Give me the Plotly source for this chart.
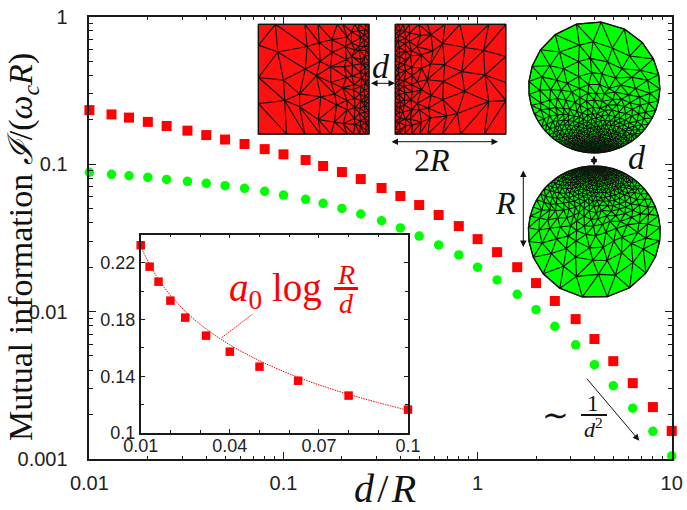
import math
import plotly.graph_objects as go

# ---------- chart data ----------
d_over_R = [0.01, 0.013, 0.016, 0.02, 0.025, 0.032, 0.04, 0.05, 0.063, 0.08, 0.1,
            0.13, 0.16, 0.2, 0.25, 0.32, 0.4, 0.5, 0.63, 0.8, 1,
            1.26, 1.6, 2, 2.5, 3.2, 4, 5, 6.3, 8, 10]
strip_info = [0.2325, 0.2174, 0.2068, 0.1934, 0.1814, 0.1687, 0.1574, 0.1468, 0.1369, 0.1264, 0.1165,
              0.1066, 0.0971, 0.0884, 0.0792, 0.0689, 0.0608, 0.0528, 0.0452, 0.0380, 0.0310,
              0.0253, 0.0200, 0.0156, 0.0118, 0.00889, 0.00651, 0.00461, 0.00327, 0.00225, 0.00155]
disk_info = [0.0880, 0.0853, 0.0834, 0.0814, 0.0788, 0.0764, 0.0741, 0.0714, 0.0685, 0.0654, 0.0617,
             0.0577, 0.0542, 0.0501, 0.0459, 0.0413, 0.0369, 0.0325, 0.0283, 0.0242, 0.0200,
             0.0164, 0.0131, 0.0103, 0.00794, 0.00595, 0.00436, 0.00314, 0.00221, 0.00154, 0.00105]
inset_x = d_over_R[:11]
inset_y = strip_info[:11]
fit_x = [0.01, 0.012, 0.014, 0.016, 0.018, 0.02, 0.025, 0.03, 0.035, 0.04, 0.05, 0.06, 0.07, 0.08, 0.09, 0.1]
fit_y = [0.2321, 0.2229, 0.2152, 0.2084, 0.2025, 0.1972, 0.1859, 0.1767, 0.1690, 0.1622, 0.1510, 0.1418,
         0.1340, 0.1273, 0.1214, 0.1160]

main_x_ticks = [0.01, 0.1, 1, 10]
main_x_labels = ["0.01", "0.1", "1", "10"]
main_y_ticks = [0.001, 0.01, 0.1, 1]
main_y_labels = ["0.001", "0.01", "0.1", "1"]
inset_x_ticks = [0.01, 0.04, 0.07, 0.1]
inset_x_labels = ["0.01", "0.04", "0.07", "0.1"]
inset_y_ticks = [0.1, 0.14, 0.18, 0.22]
inset_y_labels = ["0.1", "0.14", "0.18", "0.22"]

W, H = 687, 510
RED, GREEN = "#ff0000", "#00ff00"
SERIF, SANS = "Liberation Serif", "Liberation Sans"
AX = "#1a1a1a"


def minor_decades(lo, hi):
    return [m * 10.0 ** e for e in range(lo, hi) for m in range(2, 10)]


# ---------- illustrative meshes (pixel space of the overlay axes) ----------
def wiggle(a, b):
    return math.sin(12.9898 * a + 78.233 * b) * 43758.5453 % 1.0 - 0.5


def zip_columns(A, B, edges):
    i = j = 0
    edges.append((A[0], B[0]))
    while i < len(A) - 1 or j < len(B) - 1:
        if j == len(B) - 1 or (i < len(A) - 1 and A[i + 1][1] <= B[j + 1][1]):
            i += 1
        else:
            j += 1
        edges.append((A[i], B[j]))


def square_mesh(x_fine, x_coarse, y0, y1, seed):
    dists = [0, 4, 9, 15.5, 24, 35, 49, 67, 88, 110.5]
    counts = [24, 20, 16, 13, 10, 8, 6, 5, 4, 4]
    span = x_coarse - x_fine
    sign = 1 if span > 0 else -1
    cols = []
    for k, (s, n) in enumerate(zip(dists, counts)):
        col = []
        for j in range(n + 1):
            t = j / n
            if 0 < j < n:
                t += 0.5 * wiggle(k + seed, j) / n
            x = x_fine + sign * s
            if 0 < k < len(dists) - 1:
                x += 0.5 * wiggle(j + seed, k + 3) * (dists[k + 1] - s)
            col.append((x, y0 + (y1 - y0) * t))
        cols.append(col)
    edges = []
    for col in cols:
        edges.extend(zip(col[:-1], col[1:]))
    for a, b in zip(cols[:-1], cols[1:]):
        zip_columns(a, b, edges)
    return edges


def disk_mesh(cx, cy, rad, pole, seed, rings=11):
    a = complex(0, pole)

    def node(k, idx):
        if k == 0:
            r, th = 0.0, 0.0
        else:
            n = 6 * k
            idx %= n
            th = seed * 0.37 + 2 * math.pi * idx / n
            r = k / rings
            if k < rings:
                r += 0.3 * wiggle(idx + seed, k) / rings
                th += 0.3 * wiggle(k + seed, idx + 7) * 2 * math.pi / n
        z = r * complex(math.cos(th), math.sin(th))
        w = (z + a) / (1 + a.conjugate() * z)
        return (cx + rad * w.real, cy + rad * w.imag)

    edges = []
    for k in range(1, rings + 1):
        n = 6 * k
        for idx in range(n):
            edges.append((node(k, idx), node(k, idx + 1)))
            side, t = idx // k, idx % k
            inner = side * (k - 1) + t
            edges.append((node(k, idx), node(k - 1, inner)))
            if t > 0:
                edges.append((node(k, idx), node(k - 1, inner - 1)))
    boundary = [node(rings, i) for i in range(6 * rings)]
    return edges, boundary


def edge_xy(edges):
    xs, ys = [], []
    for p, q in edges:
        xs += [p[0], q[0], None]
        ys += [p[1], q[1], None]
    return xs, ys


fig = go.Figure()

# main series
fig.add_trace(go.Scatter(x=d_over_R, y=strip_info, mode="markers", xaxis="x", yaxis="y", cliponaxis=False,
                         marker=dict(symbol="square", size=10, color=RED, line=dict(width=0))))
fig.add_trace(go.Scatter(x=d_over_R, y=disk_info, mode="markers", xaxis="x", yaxis="y", cliponaxis=False,
                         marker=dict(symbol="circle", size=9.5, color=GREEN, line=dict(width=0))))
# inset series
fig.add_trace(go.Scatter(x=fit_x, y=fit_y, mode="lines", xaxis="x2", yaxis="y2",
                         line=dict(color=RED, width=1, dash="1.5px,1px", shape="spline")))
fig.add_trace(go.Scatter(x=inset_x, y=inset_y, mode="markers", xaxis="x2", yaxis="y2", cliponaxis=False,
                         marker=dict(symbol="square", size=8.5, color=RED, line=dict(width=0))))


def add_mesh(edges, outline, color):
    ox = [p[0] for p in outline] + [outline[0][0]]
    oy = [p[1] for p in outline] + [outline[0][1]]
    fig.add_trace(go.Scatter(x=ox, y=oy, mode="lines", fill="toself", fillcolor=color, xaxis="x3", yaxis="y3",
                             line=dict(color="#111111", width=1.3), hoverinfo="skip"))
    xs, ys = edge_xy(edges)
    fig.add_trace(go.Scatter(x=xs, y=ys, mode="lines", xaxis="x3", yaxis="y3",
                             line=dict(color="#111111", width=1.1), hoverinfo="skip"))


MESH_RED = "#ff1010"
add_mesh(square_mesh(369, 258.3, 24.3, 134, 1), [(258.3, 24.3), (369, 24.3), (369, 134), (258.3, 134)], MESH_RED)
add_mesh(square_mesh(395.3, 505.7, 24.3, 134, 5), [(395.3, 24.3), (505.7, 24.3), (505.7, 134), (395.3, 134)], MESH_RED)
e1, b1 = disk_mesh(594.3, 87.3, 65.6, 0.6, 2)
add_mesh(e1, b1, GREEN)
e2, b2 = disk_mesh(594.3, 232, 66, -0.6, 9)
add_mesh(e2, b2, GREEN)

# leader line of the fit label
fig.add_trace(go.Scatter(x=[221.7, 252.3], y=[337.7, 314.3], mode="lines", xaxis="x3", yaxis="y3",
                         line=dict(color=RED, width=1, dash="1.5px,1px"), hoverinfo="skip"))


def txt(x, y, text, size, color="#111111", font=SERIF, angle=0):
    return dict(x=x, y=y, xref="x3", yref="y3", text=text, showarrow=False, textangle=angle,
                xanchor="center", yanchor="middle", font=dict(family=font, size=size, color=color))


def arrow(x0, y0, x1, y1, both=True):
    return dict(x=x1, y=y1, ax=x0, ay=y0, xref="x3", yref="y3", axref="x3", ayref="y3", text="",
                showarrow=True, arrowcolor="#111111", arrowwidth=1, arrowhead=2, startarrowhead=2,
                arrowsize=1.3, startarrowsize=1.3, arrowside="end+start" if both else "end",
                standoff=0, startstandoff=0)


annotations = [
    txt(23, 247, "Mutual information <i>ℐ</i>/(<i>ω<sub>c</sub>R</i>)", 34, angle=-90),
    txt(385, 488, "<i>d</i>\u200a/\u200a<i>R</i>", 40),
    txt(381, 66, "<i>d</i>", 34),
    txt(432, 160, "2<i>R</i>", 32),
    txt(505, 203, "<i>R</i>", 32),
    txt(637, 157, "<i>d</i>", 34),
    txt(555, 415, "∼", 32),
    txt(593, 403, "1", 23),
    txt(593, 428, "<i>d</i><sup>2</sup>", 22),
    txt(275, 290, "<i>a</i><sub>0</sub> log", 39, color=RED),
    txt(346, 274, "<i>R</i>", 28, color=RED),
    txt(346, 303, "<i>d</i>", 28, color=RED),
    arrow(369.5, 83.3, 395, 83.3),
    arrow(390, 141.7, 498, 141.7),
    arrow(594, 154, 594, 165.5),
    arrow(523.3, 169, 523.3, 247),
    arrow(585.7, 377.3, 639.3, 440.7, both=False),
]

shapes = [
    dict(type="line", xref="x3", yref="y3", x0=581, x1=607, y0=415, y1=415, line=dict(color="#111111", width=2)),
    dict(type="line", xref="x3", yref="y3", x0=334, x1=358, y0=288.5, y1=288.5, line=dict(color=RED, width=3)),
]

ax_common = dict(showgrid=False, zeroline=False, showline=True, linecolor=AX, linewidth=1.6, mirror="ticks",
                 ticks="inside", tickcolor=AX, tickwidth=1, automargin=False)


def px_x(a, b):
    return [a / W, b / W]


def px_y(top, bottom):
    return [1 - bottom / H, 1 - top / H]


fig.update_layout(
    template="none",
    width=W, height=H, autosize=False, margin=dict(l=0, r=0, t=0, b=0, autoexpand=False),
    paper_bgcolor="white", plot_bgcolor="rgba(0,0,0,0)", showlegend=False,
    xaxis=dict(type="log", range=[-2, 1], domain=px_x(89.4, 671.7), anchor="y", tickvals=main_x_ticks,
               ticktext=main_x_labels, ticklen=7, ticklabelstandoff=5,
               tickfont=dict(family=SANS, size=20, color="#222222"),
               minor=dict(tickvals=minor_decades(-2, 1), ticks="inside", ticklen=3.5, tickcolor=AX, tickwidth=1),
               **ax_common),
    yaxis=dict(type="log", range=[-3, 0], domain=px_y(16.7, 459), anchor="x", tickvals=main_y_ticks,
               ticktext=main_y_labels, ticklen=7, ticklabelstandoff=16,
               tickfont=dict(family=SANS, size=20, color="#222222"),
               minor=dict(tickvals=minor_decades(-3, 0), ticks="inside", ticklen=3.5, tickcolor=AX, tickwidth=1),
               **ax_common),
    xaxis2=dict(range=[0.01, 0.1], domain=px_x(140.7, 408), anchor="y2", tickvals=inset_x_ticks,
                ticktext=inset_x_labels, ticklen=4, ticklabelstandoff=-4,
                tickfont=dict(family=SANS, size=18, color="#222222"),
                minor=dict(tickvals=[0.02, 0.03, 0.05, 0.06, 0.08, 0.09], ticks="inside", ticklen=3,
                           tickcolor=AX, tickwidth=1), **ax_common),
    yaxis2=dict(range=[0.1, 0.24], domain=px_y(234.6, 433), anchor="x2", tickvals=inset_y_ticks,
                ticktext=inset_y_labels, ticklen=4, tickfont=dict(family=SANS, size=18, color="#222222"),
                minor=dict(tickvals=[0.12, 0.16, 0.2, 0.24], ticks="inside", ticklen=3,
                           tickcolor=AX, tickwidth=1), **ax_common),
    xaxis3=dict(range=[0, W], domain=[0, 1], anchor="y3", visible=False, fixedrange=True),
    yaxis3=dict(range=[H, 0], domain=[0, 1], anchor="x3", visible=False, fixedrange=True),
    annotations=annotations, shapes=shapes,
)

fig.write_html("out.html", config={"displayModeBar": False}, post_script="document.body.style.margin='0';")
